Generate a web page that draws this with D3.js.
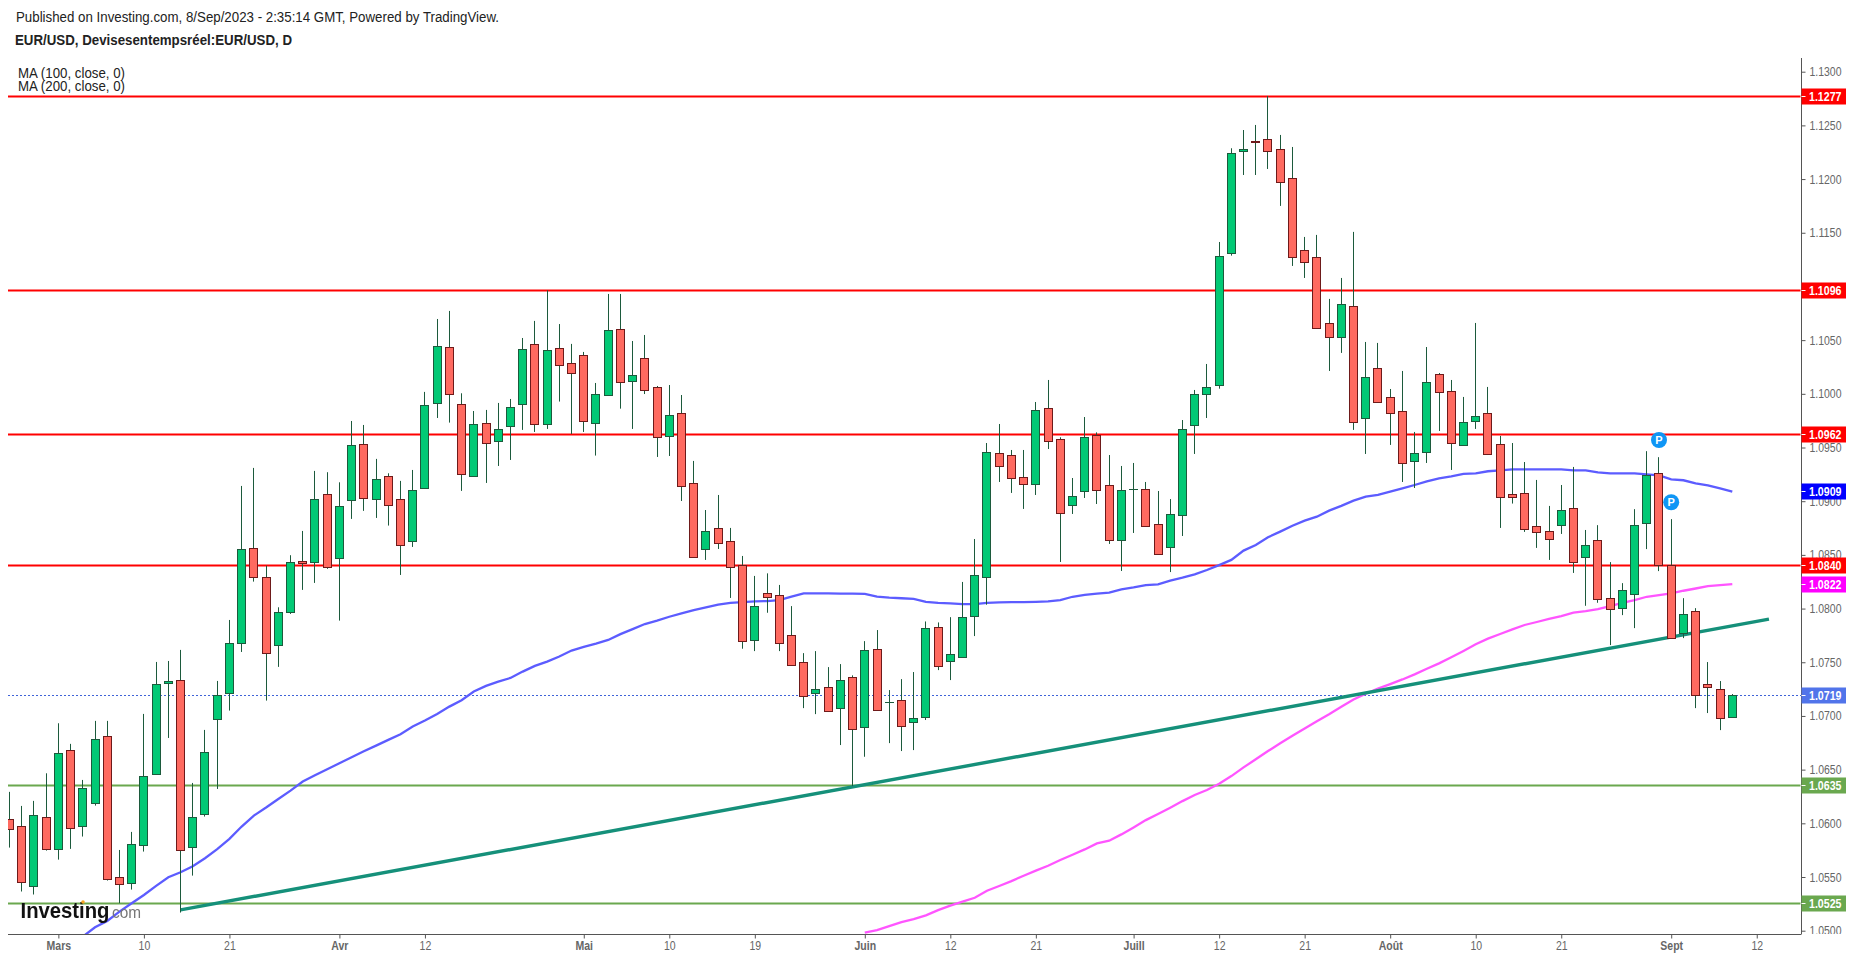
<!DOCTYPE html>
<html>
<head>
<meta charset="utf-8">
<title>EUR/USD</title>
<script src="https://cdn.jsdelivr.net/npm/d3@7"></script>
<style>
    html, body { margin: 0; padding: 0; background: #fff; }
    svg { display: block; }
    text { font-family: "Liberation Sans", Arial, sans-serif; }
</style>
</head>
<body>
<div id="chart-area"></div>
<script>
// one entry per trading day, 23 Feb to 8 Sep 2023
var candleOpen = [
    1.06038,1.05973,1.05420,1.06057,1.05765,1.06680,1.05979,1.06193,1.06811,1.05498,
    1.05448,1.05802,1.06463,1.07310,1.07332,1.05777,1.06090,1.06975,1.07218,1.07683,
    1.08562,1.08290,1.07665,1.07972,1.08440,1.08438,1.09065,1.08475,1.09015,1.09530,
    1.09024,1.09232,1.09018,1.08633,1.09127,1.09918,1.10433,1.09903,1.09238,1.09726,
    1.09564,1.09704,1.09909,1.10461,1.09723,1.10424,1.10284,1.10359,1.09732,1.09993,
    1.10600,1.10123,1.10330,1.10060,1.09610,1.09818,1.09167,1.08558,1.08748,1.08626,
    1.08403,1.07710,1.08142,1.08124,1.07750,1.07499,1.07216,1.07266,1.07076,1.07359,
    1.06899,1.07620,1.07126,1.07145,1.06946,1.06993,1.07824,1.07514,1.07551,1.07927,
    1.08297,1.09446,1.09427,1.09222,1.09163,1.09865,1.09576,1.08968,1.09098,1.09614,
    1.09148,1.08642,1.09110,1.09110,1.08785,1.08577,1.08875,1.09713,1.10002,1.10085,
    1.11315,1.12265,1.12357,1.12370,1.12277,1.12007,1.11337,1.11272,1.10657,1.10533,
    1.10815,1.09778,1.10238,1.09968,1.09837,1.09378,1.09462,1.10182,1.10024,1.09527,
    1.09750,1.09819,1.09530,1.09064,1.09074,1.08766,1.08720,1.08782,1.08934,1.08484,
    1.08634,1.08094,1.08007,1.08138,1.08799,1.09258,1.08402,1.07775,1.07973,1.07293,
    1.07247,1.06986
];
var candleHigh = [
    1.06293,1.06162,1.06209,1.06466,1.06932,1.06740,1.06404,1.06954,1.06954,1.05752,
    1.05920,1.07019,1.07503,1.07512,1.07615,1.06376,1.06870,1.07326,1.07894,1.09142,
    1.09310,1.08400,1.08012,1.08497,1.08723,1.09282,1.09270,1.09176,1.09747,1.09710,
    1.09394,1.09260,1.09189,1.09291,1.10018,1.10697,1.10772,1.10005,1.09840,1.09850,
    1.09915,1.09952,1.10520,1.10679,1.10964,1.10650,1.10465,1.10390,1.10101,1.10930,
    1.10930,1.10492,1.10548,1.10073,1.10082,1.09989,1.09375,1.08918,1.09058,1.08751,
    1.08490,1.08304,1.08328,1.08220,1.08023,1.07585,1.07604,1.07455,1.07483,1.07378,
    1.07697,1.07800,1.07241,1.07343,1.07409,1.07880,1.07871,1.07920,1.08248,1.08648,
    1.09542,1.09719,1.09477,1.09477,1.09924,1.10129,1.09595,1.09216,1.09784,1.09641,
    1.09430,1.09328,1.09356,1.09179,1.09095,1.09020,1.09756,1.10036,1.10278,1.11414,
    1.12287,1.12457,1.12504,1.12774,1.12411,1.12299,1.11461,1.11480,1.10884,1.11079,
    1.11508,1.10483,1.10474,1.10045,1.10213,1.09645,1.10436,1.10194,1.10129,1.09971,
    1.10660,1.10064,1.09608,1.09542,1.09365,1.09198,1.08956,1.09151,1.09319,1.08732,
    1.08777,1.08433,1.08237,1.08926,1.09466,1.09410,1.08833,1.08097,1.08004,1.07502,
    1.07325,1.07204
];
var candleLow = [
    1.05774,1.05365,1.05337,1.05746,1.05662,1.05762,1.05877,1.06165,1.05467,1.05256,
    1.05383,1.05737,1.06463,1.06795,1.05169,1.05513,1.06063,1.06320,1.07050,1.07596,
    1.08251,1.07143,1.07457,1.07950,1.08174,1.08239,1.08370,1.07888,1.08835,1.08910,
    1.08844,1.08773,1.08313,1.08574,1.09114,1.09775,1.09732,1.09096,1.09226,1.09170,
    1.09328,1.09384,1.09664,1.09645,1.09673,1.09928,1.09626,1.09645,1.09425,1.09993,
    1.09862,1.09673,1.09998,1.09412,1.09421,1.09002,1.08484,1.08453,1.08555,1.08099,
    1.07626,1.07604,1.07961,1.07604,1.07477,1.07073,1.07017,1.07048,1.06729,1.06347,
    1.06620,1.07058,1.06747,1.06673,1.06682,1.06962,1.07427,1.07334,1.07551,1.07744,
    1.08036,1.09179,1.09077,1.08928,1.09058,1.09486,1.08434,1.08881,1.09030,1.08974,
    1.08602,1.08350,1.08704,1.08772,1.08512,1.08340,1.08676,1.09440,1.09775,1.10048,
    1.11287,1.12038,1.12038,1.12094,1.11750,1.11191,1.11079,1.10604,1.10213,1.10381,
    1.09664,1.09440,1.09927,1.09524,1.09179,1.09123,1.09356,1.09654,1.09291,1.09527,
    1.09673,1.09430,1.08751,1.08978,1.08714,1.08565,1.08453,1.08695,1.08332,1.08026,
    1.08054,1.07660,1.07939,1.07818,1.08554,1.08349,1.07719,1.07725,1.07073,1.07027,
    1.06868,1.06986
];
var candleClose = [
    1.05951,1.05458,1.06075,1.05765,1.06653,1.05960,1.06327,1.06783,1.05479,1.05439,
    1.05805,1.06438,1.07295,1.07324,1.05756,1.06057,1.06662,1.07193,1.07677,1.08552,
    1.08298,1.07590,1.07966,1.08431,1.08428,1.09018,1.08391,1.08953,1.09521,1.09034,
    1.09204,1.08968,1.08596,1.09102,1.09893,1.10443,1.10002,1.09257,1.09716,1.09546,
    1.09670,1.09875,1.10415,1.09723,1.10406,1.10272,1.10198,1.09750,1.09996,1.10592,
    1.10113,1.10172,1.10039,1.09601,1.09800,1.09145,1.08484,1.08720,1.08614,1.08391,
    1.07694,1.08020,1.08111,1.07682,1.07477,1.07188,1.07247,1.07048,1.07331,1.06881,
    1.07610,1.07058,1.07126,1.06909,1.06977,1.07815,1.07467,1.07573,1.07918,1.08310,
    1.09455,1.09331,1.09219,1.09163,1.09846,1.09564,1.08893,1.09046,1.09595,1.09108,
    1.08642,1.09101,1.09110,1.08772,1.08512,1.08878,1.09669,1.09995,1.10060,1.11284,
    1.12240,1.12280,1.12342,1.12265,1.11976,1.11278,1.11231,1.10617,1.10533,1.10834,
    1.09735,1.10154,1.09927,1.09825,1.09359,1.09446,1.10107,1.10020,1.09546,1.09735,
    1.09791,1.09443,1.09043,1.09043,1.08745,1.08710,1.08652,1.08915,1.08437,1.08596,
    1.08091,1.07998,1.08169,1.08774,1.09240,1.08408,1.07728,1.07945,1.07197,1.07272,
    1.06977,1.07191
];

// MA 100, first value belongs to candle 6
var ma100Start = 6;
var ma100 = [
    1.04945,1.05032,1.05091,1.05178,1.05256,1.05333,1.05417,1.05498,1.05544,1.05600,
    1.05675,1.05759,1.05855,1.05970,1.06072,1.06147,1.06227,1.06305,1.06389,1.06448,
    1.06504,1.06560,1.06615,1.06671,1.06724,1.06777,1.06830,1.06901,1.06957,1.07019,
    1.07087,1.07146,1.07227,1.07280,1.07320,1.07354,1.07413,1.07466,1.07506,1.07553,
    1.07609,1.07643,1.07674,1.07708,1.07762,1.07809,1.07856,1.07887,1.07924,1.07955,
    1.07986,1.08011,1.08036,1.08054,1.08060,1.08067,1.08070,1.08079,1.08111,1.08142,
    1.08142,1.08142,1.08139,1.08139,1.08136,1.08111,1.08102,1.08096,1.08090,1.08063,
    1.08054,1.08048,1.08042,1.08042,1.08054,1.08057,1.08060,1.08060,1.08063,1.08067,
    1.08079,1.08110,1.08127,1.08139,1.08148,1.08179,1.08197,1.08219,1.08225,1.08260,
    1.08288,1.08319,1.08359,1.08405,1.08453,1.08540,1.08592,1.08664,1.08717,1.08772,
    1.08819,1.08856,1.08912,1.08956,1.09005,1.09043,1.09058,1.09089,1.09120,1.09151,
    1.09185,1.09213,1.09232,1.09254,1.09260,1.09279,1.09288,1.09297,1.09297,1.09297,
    1.09297,1.09297,1.09288,1.09288,1.09269,1.09260,1.09260,1.09260,1.09250,1.09241,
    1.09204,1.09195,1.09167,1.09148,1.09120,1.09090
];

// MA 200, first value belongs to candle 70
var ma200Start = 70;
var ma200 = [
    1.04981,1.05006,1.05043,1.05080,1.05108,1.05143,1.05192,1.05233,1.05270,1.05307,
    1.05372,1.05416,1.05462,1.05512,1.05559,1.05605,1.05658,1.05708,1.05757,1.05813,
    1.05838,1.05897,1.05962,1.06030,1.06086,1.06145,1.06207,1.06264,1.06310,1.06369,
    1.06440,1.06521,1.06596,1.06673,1.06745,1.06816,1.06884,1.06950,1.07015,1.07086,
    1.07154,1.07207,1.07254,1.07297,1.07340,1.07387,1.07440,1.07490,1.07546,1.07605,
    1.07667,1.07720,1.07763,1.07806,1.07847,1.07875,1.07903,1.07930,1.07962,1.07977,
    1.07995,1.08023,1.08054,1.08079,1.08110,1.08125,1.08141,1.08166,1.08187,1.08209,
    1.08218,1.08228
];

// trend line, from the low of candle 14 to the end of the drawing
var trendIndex = [14, 144];
var trendPrice = [1.05194, 1.07902];

var redLevels = [1.1277, 1.1096, 1.0962, 1.0840];
var greenLevels = [1.0635, 1.0525];
var lastPrice = 1.0719;
var ma100Last = 1.0909;
var ma200Last = 1.0822;

// 1.1100 sits under the 1.1096 tag
var priceTicks = [1.05,1.055,1.06,1.065,1.07,1.075,1.08,1.085,1.09,1.095,1.10,1.105,1.115,1.12,1.125,1.13];
var dateTickIndex = [4, 11, 18, 27, 34, 47, 54, 61, 70, 77, 84, 92, 99, 106, 113, 120, 127, 136, 143];
var dateTickLabels = ["Mars","10","21","Avr","12","Mai","10","19","Juin","12","21","Juill","12","21","Août","10","21","Sept","12"];

var badgeIndex = [135, 136];
var badgePrice = [1.0957, 1.0899];

var width = 1853, height = 958;
var paneLeft = 8, paneRight = 1801.5, paneBottom = 934, axisTop = 58;

var svg = d3.select("#chart-area")
    .append("svg")
    .attr("width", width)
    .attr("height", height);

// Scales
var x = d3.scaleLinear().domain([0, 141]).range([9.5, 1732.3]);
var y = d3.scaleLinear().domain([1.05, 1.13]).range([930.7, 71.7]);

// pixel snapping for thin things
function snap(v) { return Math.round(v - 0.5) + 0.5; }

svg.append("defs").append("clipPath").attr("id", "pane")
    .append("rect")
    .attr("x", paneLeft).attr("y", 0)
    .attr("width", paneRight - paneLeft).attr("height", paneBottom);
svg.select("defs").append("clipPath").attr("id", "axisclip")
    .append("rect")
    .attr("x", 0).attr("y", 0)
    .attr("width", 60).attr("height", paneBottom);

var g = svg.append("g").attr("clip-path", "url(#pane)");

// last price, dotted
g.append("line")
    .attr("x1", paneLeft).attr("x2", paneRight)
    .attr("y1", snap(y(lastPrice))).attr("y2", snap(y(lastPrice)))
    .attr("stroke", "#3f63d8")
    .attr("stroke-width", 1)
    .attr("stroke-dasharray", "2,2");

// horizontal levels
g.selectAll(".red-level").data(redLevels).enter().append("line")
    .attr("class", "red-level")
    .attr("x1", paneLeft).attr("x2", paneRight - 1)
    .attr("y1", function(d) { return snap(y(d)); })
    .attr("y2", function(d) { return snap(y(d)); })
    .attr("stroke", "#ff0000")
    .attr("stroke-width", 1.9);

g.selectAll(".green-level").data(greenLevels).enter().append("line")
    .attr("class", "green-level")
    .attr("x1", paneLeft).attr("x2", paneRight - 1)
    .attr("y1", function(d) { return snap(y(d)); })
    .attr("y2", function(d) { return snap(y(d)); })
    .attr("stroke", "#6aa84f")
    .attr("stroke-width", 1.9);

// moving averages
var maLine = d3.line()
    .x(function(d) { return x(d.i); })
    .y(function(d) { return y(d.v); });

function maPoints(start, values) {
    return values.map(function(v, n) { return { i: start + n, v: v }; });
}

g.append("path")
    .attr("d", maLine(maPoints(ma200Start, ma200)))
    .attr("fill", "none")
    .attr("stroke", "#ff55ff")
    .attr("stroke-width", 2.3);

g.append("path")
    .attr("d", maLine(maPoints(ma100Start, ma100)))
    .attr("fill", "none")
    .attr("stroke", "#5c5cff")
    .attr("stroke-width", 2.3);

// trend line
g.append("line")
    .attr("x1", x(trendIndex[0])).attr("y1", y(trendPrice[0]))
    .attr("x2", x(trendIndex[1])).attr("y2", y(trendPrice[1]))
    .attr("stroke", "#15907a")
    .attr("stroke-width", 3.4);

// candles
var candles = g.selectAll(".candle")
    .data(candleOpen.map(function(o, i) {
        return { i: i, o: o, h: candleHigh[i], l: candleLow[i], c: candleClose[i] };
    }))
    .enter().append("g")
    .attr("class", "candle");

candles.append("line")
    .attr("x1", function(d) { return snap(x(d.i)); })
    .attr("x2", function(d) { return snap(x(d.i)); })
    .attr("y1", function(d) { return y(d.h); })
    .attr("y2", function(d) { return y(d.l); })
    .attr("stroke", "#1c5a3c")
    .attr("stroke-width", 1);

candles.append("rect")
    .attr("x", function(d) { return snap(x(d.i)) - 4; })
    .attr("width", 8)
    .attr("y", function(d) { return Math.round(y(Math.max(d.o, d.c))) + 0.5; })
    .attr("height", function(d) {
        var top = Math.round(y(Math.max(d.o, d.c)));
        var bot = Math.round(y(Math.min(d.o, d.c)));
        return Math.max(bot - top, 0.01);
    })
    .attr("fill", function(d) { return d.c >= d.o ? "#02c975" : "#ff6a60"; })
    .attr("stroke", function(d) { return d.c >= d.o ? "#1c5a3c" : "#6e1a1a"; })
    .attr("stroke-width", 1);

// P badges
var badges = svg.selectAll(".badge")
    .data(badgeIndex.map(function(b, i) { return { i: b, p: badgePrice[i] }; }))
    .enter().append("g")
    .attr("class", "badge")
    .attr("transform", function(d) { return "translate(" + x(d.i) + "," + y(d.p) + ")"; });
badges.append("circle")
    .attr("r", 8)
    .attr("fill", "#0f96f5");
badges.append("text")
    .attr("text-anchor", "middle")
    .attr("y", 4)
    .attr("font-size", 11)
    .attr("font-weight", "bold")
    .attr("fill", "#fff")
    .text("P");

// price axis, the bottom label gets cut by the time axis
var yAxisGroup = svg.append("g")
    .attr("clip-path", "url(#axisclip)")
    .attr("transform", "translate(" + paneRight + ",0)");
yAxisGroup.call(d3.axisRight(y)
    .tickValues(priceTicks)
    .tickSize(4)
    .tickSizeOuter(0)
    .tickPadding(4)
    .tickFormat(d3.format(".4f")));
yAxisGroup.select(".domain").remove();
yAxisGroup.selectAll("line").attr("stroke", "#555");
yAxisGroup.selectAll("text")
    .attr("fill", "#666")
    .style("font-family", "'Liberation Sans', Arial, sans-serif")
    .style("font-size", "12.5px")
    .attr("textLength", 32)
    .attr("lengthAdjust", "spacingAndGlyphs");

svg.append("line")
    .attr("x1", paneRight).attr("x2", paneRight)
    .attr("y1", axisTop).attr("y2", paneBottom)
    .attr("stroke", "#555")
    .attr("stroke-width", 1);

// time axis
var xAxisGroup = svg.append("g")
    .attr("transform", "translate(0," + (paneBottom + 0.5) + ")")
    .call(d3.axisBottom(x)
        .tickValues(dateTickIndex)
        .tickSize(4)
        .tickSizeOuter(0)
        .tickPadding(3)
        .tickFormat(function(d) { return dateTickLabels[dateTickIndex.indexOf(d)]; }));
xAxisGroup.select(".domain").remove();
xAxisGroup.selectAll("line").attr("stroke", "#555");
xAxisGroup.selectAll("text")
    .attr("fill", "#666")
    .style("font-family", "'Liberation Sans', Arial, sans-serif")
    .style("font-size", "12.5px")
    .style("font-weight", function(d) {
        return isNaN(+dateTickLabels[dateTickIndex.indexOf(d)]) ? "bold" : "normal";
    })
    .each(function() {
        d3.select(this)
            .attr("textLength", this.getComputedTextLength() * 0.84)
            .attr("lengthAdjust", "spacingAndGlyphs");
    });

svg.append("line")
    .attr("x1", paneLeft).attr("x2", paneRight)
    .attr("y1", paneBottom + 0.5).attr("y2", paneBottom + 0.5)
    .attr("stroke", "#555")
    .attr("stroke-width", 1);

// price tags on the axis
var tags = [
    { p: redLevels[0], c: "#ff0000" },
    { p: redLevels[1], c: "#ff0000" },
    { p: redLevels[2], c: "#ff0000" },
    { p: ma100Last, c: "#0000ff" },
    { p: redLevels[3], c: "#ff0000" },
    { p: ma200Last, c: "#ff00ff" },
    { p: lastPrice, c: "#5174ea" },
    { p: greenLevels[0], c: "#6aa84f" },
    { p: greenLevels[1], c: "#6aa84f" }
];
var tag = svg.selectAll(".tag").data(tags).enter().append("g")
    .attr("class", "tag")
    .attr("transform", function(d) { return "translate(" + paneRight + "," + snap(y(d.p)) + ")"; });
tag.append("rect")
    .attr("x", 0).attr("y", -8)
    .attr("width", 44.5).attr("height", 16)
    .attr("fill", function(d) { return d.c; });
tag.append("line")
    .attr("x1", 0).attr("x2", 4)
    .attr("stroke", "#fff");
tag.append("text")
    .attr("x", 7.5).attr("y", 4.5)
    .attr("font-size", 12.5)
    .attr("font-weight", "bold")
    .attr("fill", "#fff")
    .attr("textLength", 32.5)
    .attr("lengthAdjust", "spacingAndGlyphs")
    .text(function(d) { return d.p.toFixed(4); });

// headers
function headerText(str, tx, ty, w, size, weight) {
    svg.append("text")
        .attr("x", tx).attr("y", ty)
        .attr("font-size", size)
        .attr("font-weight", weight)
        .attr("fill", "#222")
        .attr("textLength", w)
        .attr("lengthAdjust", "spacingAndGlyphs")
        .text(str);
}
headerText("Published on Investing.com, 8/Sep/2023 - 2:35:14 GMT, Powered by TradingView.", 16, 22, 483, 14, "normal");
headerText("EUR/USD, Devisesentempsréel:EUR/USD, D", 15, 45, 277, 14, "bold");
headerText("MA (100, close, 0)", 18, 77.5, 107, 14, "normal");
headerText("MA (200, close, 0)", 18, 90.5, 107, 14, "normal");

// logo
var logo = svg.append("g").style("filter", "blur(0.4px)");
logo.append("text")
    .attr("x", 20.5).attr("y", 918)
    .attr("font-size", 22)
    .attr("font-weight", "bold")
    .attr("fill", "#111")
    .attr("textLength", 89)
    .attr("lengthAdjust", "spacingAndGlyphs")
    .text("Investing");
logo.append("text")
    .attr("x", 112).attr("y", 918)
    .attr("font-size", 16)
    .attr("fill", "#777")
    .attr("textLength", 29)
    .attr("lengthAdjust", "spacingAndGlyphs")
    .text("com");
logo.append("circle")
    .attr("cx", 83).attr("cy", 902)
    .attr("r", 1.8)
    .attr("fill", "#f5a623");
</script>
</body>
</html>
